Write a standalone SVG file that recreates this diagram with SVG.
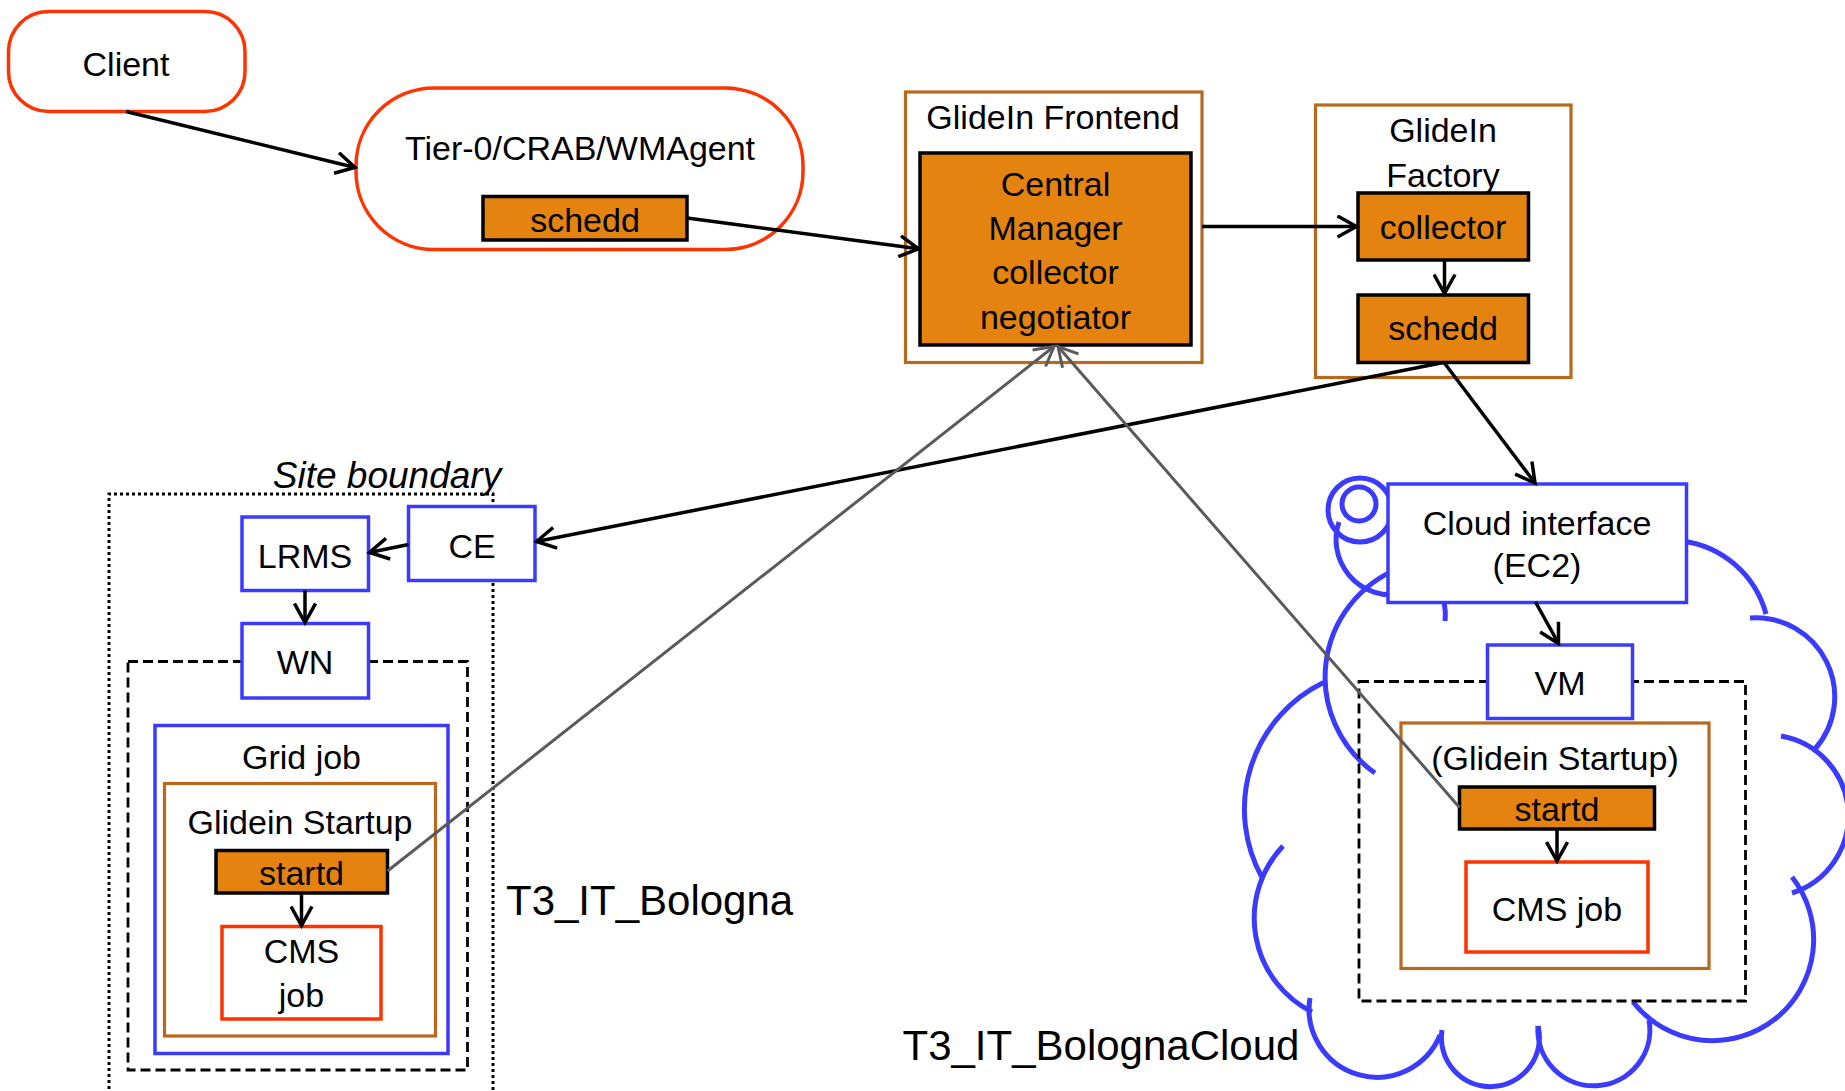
<svg xmlns="http://www.w3.org/2000/svg" width="1845" height="1091" viewBox="0 0 1845 1091">
  <style>
    .t { font-family: "Liberation Sans", Arial, sans-serif; font-size: 34px; fill: #000; text-anchor: middle; }
    .big { font-size: 42px; text-anchor: start; }
    .site { font-style: italic; font-size: 37px; }
    .pill { fill: #fff; stroke: #ff3300; stroke-width: 3.5; }
    .blue { fill: #fff; stroke: #3b3bff; stroke-width: 3.5; }
    .brown { fill: #fff; stroke: #b8691e; stroke-width: 3.2; }
    .red { fill: #fff; stroke: #ff3300; stroke-width: 3.5; }
    .orange { fill: #e4830f; stroke: #000; stroke-width: 3.5; }
    .dash { fill: none; stroke: #000; stroke-width: 2.8; stroke-dasharray: 10 5; }
    .dot { fill: none; stroke: #000; stroke-width: 3; stroke-dasharray: 3 3; }
    .cloud { fill: none; stroke: #3b3bff; stroke-width: 5; }
    .conn { fill: none; stroke: #000; stroke-width: 3.5; }
    .grey { fill: none; stroke: #5a5a5a; stroke-width: 3; }
  </style>
  <defs>
    <marker id="arrow" viewBox="0 0 24 24" refX="21" refY="12" markerWidth="24" markerHeight="24" markerUnits="userSpaceOnUse" orient="auto">
      <path d="M2,1.5 L21,12 L2,22.5" fill="none" stroke="#000" stroke-width="3.5"/>
    </marker>
    <marker id="arrow-grey" viewBox="0 0 24 24" refX="21" refY="12" markerWidth="24" markerHeight="24" markerUnits="userSpaceOnUse" orient="auto">
      <path d="M2,1.5 L21,12 L2,22.5" fill="none" stroke="#5a5a5a" stroke-width="3"/>
    </marker>
  </defs>

  <rect width="1845" height="1091" fill="#fff"/>

  <!-- client and submission agents -->
  <g id="client">
    <rect x="8.5" y="11.5" width="236.5" height="100" rx="40" ry="40" class="pill"/>
    <text x="126" y="76" class="t">Client</text>
  </g>

  <g id="tier0">
    <rect x="356" y="88" width="447" height="161.5" rx="78" ry="78" class="pill"/>
    <text x="580" y="159.5" class="t">Tier-0/CRAB/WMAgent</text>
    <g id="tier0-schedd">
      <rect x="483" y="196.5" width="204" height="43.5" class="orange"/>
      <text x="585" y="232" class="t">schedd</text>
    </g>
  </g>

  <!-- glidein frontend -->
  <g id="frontend">
    <rect x="905.5" y="92" width="296.5" height="270.5" class="brown"/>
    <text x="1053" y="128.5" class="t">GlideIn Frontend</text>
    <g id="central-manager">
      <rect x="920" y="153" width="271" height="192" class="orange"/>
      <text x="1055.5" y="195.5" class="t">Central</text>
      <text x="1055.5" y="239.5" class="t">Manager</text>
      <text x="1055.5" y="284" class="t">collector</text>
      <text x="1055.5" y="329" class="t">negotiator</text>
    </g>
  </g>

  <!-- glidein factory -->
  <g id="factory">
    <rect x="1315.5" y="105" width="255.5" height="272.5" class="brown"/>
    <text x="1443" y="141.5" class="t">GlideIn</text>
    <text x="1443" y="186.5" class="t">Factory</text>
    <g id="factory-collector">
      <rect x="1358" y="193" width="170.5" height="67" class="orange"/>
      <text x="1443" y="238.5" class="t">collector</text>
    </g>
    <g id="factory-schedd">
      <rect x="1358" y="295" width="170.5" height="67.5" class="orange"/>
      <text x="1443" y="340" class="t">schedd</text>
    </g>
  </g>

  <!-- grid site T3_IT_Bologna -->
  <g id="site-bologna">
    <path d="M109,1095 V494 H493 V1095" class="dot"/>
    <text x="387" y="488" class="t site">Site boundary</text>
    <text x="506" y="915" class="t big">T3_IT_Bologna</text>
    <rect x="128" y="661.5" width="339.5" height="408.5" class="dash"/>
  </g>
  <g id="lrms">
    <rect x="242" y="517" width="126.5" height="73.5" class="blue"/>
    <text x="305" y="568" class="t">LRMS</text>
  </g>
  <g id="ce">
    <rect x="408.5" y="506.5" width="126.5" height="74" class="blue"/>
    <text x="472" y="557.5" class="t">CE</text>
  </g>
  <g id="wn">
    <rect x="242" y="623.5" width="126.5" height="74.5" class="blue"/>
    <text x="305" y="674" class="t">WN</text>
  </g>
  <g id="grid-job">
    <rect x="155" y="725.5" width="293" height="328" class="blue"/>
    <text x="301.5" y="768.5" class="t">Grid job</text>
  </g>
  <g id="glidein-startup-grid">
    <rect x="164.5" y="783.5" width="271" height="252.5" class="brown"/>
    <text x="300" y="833.5" class="t">Glidein Startup</text>
  </g>
  <g id="startd-grid">
    <rect x="216" y="850.5" width="171.5" height="42.5" class="orange"/>
    <text x="301.5" y="885" class="t">startd</text>
  </g>
  <g id="cms-job-grid">
    <rect x="222" y="926.5" width="159" height="92.5" class="red"/>
    <text x="301.5" y="963" class="t">CMS</text>
    <text x="301.5" y="1007" class="t">job</text>
  </g>

  <!-- cloud site T3_IT_BolognaCloud -->
  <g id="cloud">
    <circle cx="1359" cy="504" r="17" class="cloud"/>
    <circle cx="1360" cy="510" r="32" class="cloud"/>
    <path d="M1339,522 A55,55 0 0 0 1400,594" class="cloud"/>
    <path d="M1400,568 A117,117 0 0 0 1375,773" class="cloud"/>
    <path d="M1323.5,682.6 A141,141 0 0 0 1262,877.5" class="cloud"/>
    <path d="M1283,846 A105,105 0 0 0 1312,1012" class="cloud"/>
    <path d="M1310,998 A68,68 0 0 0 1440,1035" class="cloud"/>
    <path d="M1442,1030 A49,49 0 1 0 1538,1026" class="cloud"/>
    <path d="M1538,1026 A56,56 0 1 0 1649,1020" class="cloud"/>
    <path d="M1633,1002 A101,101 0 0 0 1792,877" class="cloud"/>
    <path d="M1792,893 A81,81 0 0 0 1781,736" class="cloud"/>
    <path d="M1815,749 A79,79 0 0 0 1750,618" class="cloud"/>
    <path d="M1682,541 A100,100 0 0 1 1766,614" class="cloud"/>
    <path d="M1444,603 Q1446,611 1445,621" class="cloud"/>
    <text x="902.5" y="1060" class="t big">T3_IT_BolognaCloud</text>
    <rect x="1359" y="681.5" width="386.5" height="319.5" class="dash"/>
  </g>
  <g id="cloud-interface">
    <rect x="1388" y="484" width="298.5" height="118.5" class="blue"/>
    <text x="1537" y="534.5" class="t">Cloud interface</text>
    <text x="1537" y="577" class="t">(EC2)</text>
  </g>
  <g id="vm">
    <rect x="1487.5" y="645" width="145" height="73.5" class="blue"/>
    <text x="1560" y="695" class="t">VM</text>
  </g>
  <g id="glidein-startup-cloud">
    <rect x="1401" y="723" width="308" height="245.5" class="brown"/>
    <text x="1555" y="769.5" class="t">(Glidein Startup)</text>
  </g>
  <g id="startd-cloud">
    <rect x="1459.5" y="787" width="195" height="42" class="orange"/>
    <text x="1557" y="821" class="t">startd</text>
  </g>
  <g id="cms-job-cloud">
    <rect x="1466" y="862" width="182" height="90" class="red"/>
    <text x="1557" y="920.5" class="t">CMS job</text>
  </g>

  <!-- connectors -->
  <g id="connectors">
    <line x1="126" y1="111.5" x2="355" y2="167.5" class="conn" marker-end="url(#arrow)"/>
    <line x1="687" y1="218" x2="918.5" y2="248.8" class="conn" marker-end="url(#arrow)"/>
    <line x1="1202" y1="226.5" x2="1356.5" y2="226.5" class="conn" marker-end="url(#arrow)"/>
    <line x1="1444.5" y1="260.5" x2="1444.5" y2="293.5" class="conn" marker-end="url(#arrow)"/>
    <line x1="1443.5" y1="362.5" x2="536.5" y2="541.5" class="conn" marker-end="url(#arrow)"/>
    <line x1="1444" y1="362.5" x2="1535" y2="483" class="conn" marker-end="url(#arrow)"/>
    <line x1="408.5" y1="544.5" x2="369.5" y2="552.5" class="conn" marker-end="url(#arrow)"/>
    <line x1="305" y1="590.5" x2="305" y2="622.5" class="conn" marker-end="url(#arrow)"/>
    <line x1="301.5" y1="893" x2="301.5" y2="925.5" class="conn" marker-end="url(#arrow)"/>
    <line x1="1535.5" y1="602" x2="1558.5" y2="643.5" class="conn" marker-end="url(#arrow)"/>
    <line x1="1557" y1="829" x2="1557" y2="861" class="conn" marker-end="url(#arrow)"/>
    <line x1="387.5" y1="871" x2="1054" y2="346.5" class="grey" marker-end="url(#arrow-grey)"/>
    <line x1="1459.5" y1="807.5" x2="1058" y2="346.5" class="grey" marker-end="url(#arrow-grey)"/>
  </g>
</svg>
